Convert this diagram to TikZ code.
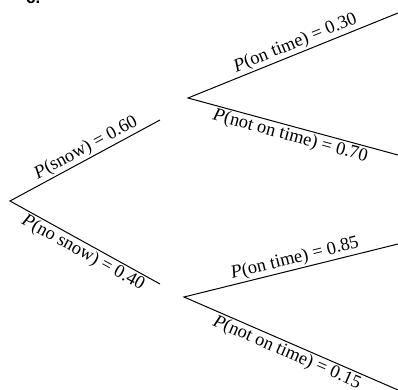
\documentclass[tikz,border=0pt]{standalone}
\usepackage{fontspec}
\setmainfont{Liberation Serif}
\newfontfamily\partfont{Liberation Sans}
\usetikzlibrary{positioning}

\tikzset{
    branch/.style={line width=1pt},
    prob/.style={font=\fontsize{18.5}{18.5}\selectfont, sloped, inner sep=1.5pt},
}
\newcommand{\Prob}[2]{\textit{P}(#1) = #2}

\begin{document}
\begin{tikzpicture}[x=1bp, y=-1bp]
        \useasboundingbox (0,0) rectangle (398,390);
        \clip (0,0) rectangle (398,390);

        % part label, cut off at the top
        \node[font=\partfont\bfseries\fontsize{17}{17}\selectfont, anchor=base west, inner sep=0pt] at (26,3) (part) {c.};

        \coordinate (root) at (10,201);
        \coordinate (snow) at (160,120);
        \coordinate (nosnow) at (160,284);

        \coordinate (s) at (188,98);
        \coordinate (s_on) at (398,13);
        \coordinate (s_off) at (398,155);

        \coordinate (n) at (184,297);
        \coordinate (n_on) at (398,244);
        \coordinate (n_off) at (398,390);

        \draw [branch] (snow) -- node[prob, above, pos=0.46] {\Prob{snow}{0.60}} (root)
            -- node[prob, below, pos=0.52] {\Prob{no snow}{0.40}} (nosnow);

        \draw [branch] (s_on) -- node[prob, above, pos=0.47] {\Prob{on time}{0.30}} (s)
            -- node[prob, below, pos=0.5] {\Prob{not on time}{0.70}} (s_off);

        \draw [branch] (n_on) -- node[prob, above, pos=0.47] {\Prob{on time}{0.85}} (n)
            -- node[prob, below, pos=0.5] {\Prob{not on time}{0.15}} (n_off);
    \end{tikzpicture}
\end{document}
